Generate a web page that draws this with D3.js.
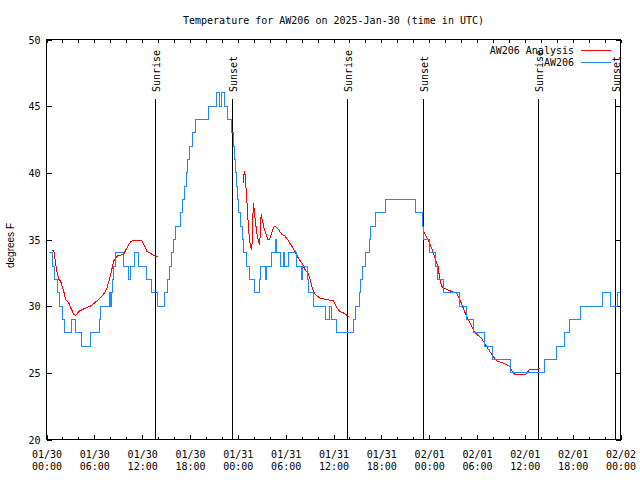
<!DOCTYPE html>
<html><head><meta charset="utf-8">
<script src="https://cdn.jsdelivr.net/npm/d3@7"></script>
<style>
html,body{margin:0;padding:0;background:#fff;}
svg{display:block;}
text{font-family:"DejaVu Sans Mono",monospace;font-size:10px;fill:#000;}
</style></head><body>
<svg id="chart" width="640" height="480"></svg>
<script>
// ---- data (time = hours after 2025-01-30 00:00 UTC) ----
const titleText = "Temperature for AW206 on 2025-Jan-30 (time in UTC)";
const yLabelText = "degrees F";
const seriesNames = ["AW206 Analysis", "AW206"];
const yTicks = [20, 25, 30, 35, 40, 45, 50];
const xMajorHours = [0, 6, 12, 18, 24, 30, 36, 42, 48, 54, 60, 66, 72];
const xTickDates = ["01/30","01/30","01/30","01/30","01/31","01/31","01/31","01/31","02/01","02/01","02/01","02/01","02/02"];
const xTickTimes = ["00:00","06:00","12:00","18:00","00:00","06:00","12:00","18:00","00:00","06:00","12:00","18:00","00:00"];
const sunHours = [13.67, 23.33, 37.73, 47.25, 61.65, 71.25];
const sunLabels = ["Sunrise", "Sunset", "Sunrise", "Sunset", "Sunrise", "Sunset"];

const obsHours = [0.29,0.71,1.04,1.38,1.63,2.00,2.32,3.13,3.63,4.35,5.47,6.70,6.82,7.93,8.05,8.14,8.26,8.39,8.70,9.60,
  10.27,10.58,11.02,11.58,12.52,13.21,13.96,14.84,15.15,15.40,15.65,15.94,16.24,16.78,17.07,17.34,17.53,17.72,17.97,18.28,
  18.72,20.35,21.29,21.66,21.91,22.35,22.67,23.17,23.42,23.60,23.73,23.85,23.98,24.10,24.29,24.54,24.76,25.11,25.48,26.05,
  26.71,26.89,27.49,27.61,28.24,28.68,28.89,29.30,29.71,29.84,30.34,31.31,31.93,32.12,32.75,32.90,33.47,34.94,35.56,35.78,
  36.38,38.57,38.82,39.23,39.44,39.66,40.07,40.48,40.70,41.29,42.58,46.33,47.15,47.33,48.09,48.84,49.00,49.75,51.84,52.68,
  53.60,54.97,55.94,58.19,62.49,63.95,64.99,65.62,66.99,69.79,70.71,71.67,71.88];
const obsTemps = [34,33,32,31,30,29,28,29,28,27,28,29,30,31,30,31,32,33,34,33,
  32,33,34,33,32,31,30,31,32,33,34,35,36,37,38,39,40,41,42,43,
  44,45,46,45,46,45,44,43,42,41,40,39,38,37,36,35,34,33,32,31,
  32,33,32,33,34,35,34,33,34,33,34,33,32,33,32,31,30,29,30,29,
  28,29,30,31,32,33,34,35,36,37,38,37,36,35,34,33,32,31,30,29,
  28,27,26,25,26,27,28,29,30,31,30,31,31];

const anaHours = [0.63,0.91,1.13,1.34,1.54,1.75,1.97,2.17,2.38,2.79,3.01,3.42,3.67,4.04,4.67,5.51,6.35,7.18,7.60,8.01,
  8.43,8.85,9.68,10.11,10.52,10.73,11.98,12.61,13.65,13.94,
  18.0,
  24.71,24.79,24.88,24.96,25.04,25.13,25.21,25.33,25.46,25.63,25.76,25.83,25.96,26.05,26.17,26.38,26.58,26.71,26.80,26.92,
  27.14,27.34,27.55,27.76,27.96,28.26,28.46,28.68,29.09,29.51,29.93,30.34,30.77,31.18,31.59,32.02,32.43,32.85,33.06,33.47,
  33.68,34.31,35.15,35.98,36.40,36.81,37.23,37.98,
  42.0,
  47.33,47.83,48.34,48.84,49.12,49.34,49.55,49.75,50.80,51.43,51.84,52.25,52.68,53.09,53.51,53.93,54.56,54.76,55.19,55.60,
  56.01,56.44,57.26,57.69,58.10,58.52,58.73,60.11,60.61,61.95];
const anaTemps = [34.2,34.2,33.25,32.5,32.0,31.9,31.5,31.1,30.5,30.25,29.9,29.4,29.3,29.6,29.8,30.0,30.4,30.9,31.4,32.25,
  33.4,33.75,33.9,34.4,34.8,34.9,34.9,34.1,33.75,33.7,
  null,
  39.25,40.0,40.1,39.5,38.75,38.0,37.0,36.0,35.0,34.4,34.2,36.0,37.75,37.25,36.5,35.5,34.9,34.6,35.25,36.9,
  36.25,35.75,35.4,35.0,35.0,35.5,35.9,36.0,35.75,35.4,35.25,34.9,34.5,34.1,33.6,33.25,32.75,32.4,32.0,31.1,
  30.9,30.6,30.5,30.4,29.9,29.6,29.5,29.2,
  null,
  35.6,35.0,34.3,33.4,32.95,32.0,31.5,31.4,31.1,31.0,30.5,29.9,29.25,28.75,28.25,27.9,27.6,27.4,27.0,26.6,
  26.25,25.9,25.75,25.6,25.5,25.0,24.9,24.9,25.25,25.3];

// ---- layout / style ----
const W = 640, H = 480;
const L = 46.5, R = 620.5, T = 39.5, B = 439.5;
const anaColor = "#ff0000", obsColor = "#1e88ff";
const sunLineTop = 99;

const svg = d3.select("#chart");
svg.append("rect").attr("width", W).attr("height", H).attr("fill", "#fff");

const x = d3.scaleLinear().domain([0, 72]).range([L, R]);
const y = d3.scaleLinear().domain([20, 50]).range([B, T]);

const obs = obsHours.map((h, i) => ({h, v: obsTemps[i]}));
const ana = anaHours.map((h, i) => ({h, v: anaTemps[i]}));

// axes (ticks inward)
const xMinor = d3.range(0, 73, 2);
function styleAxis(g) {
  g.select(".domain").remove();
  g.selectAll(".tick line").attr("stroke", "#000").attr("shape-rendering", "crispEdges");
}
svg.append("g").attr("transform", `translate(0,${B})`)
  .call(d3.axisBottom(x).tickValues(xMinor).tickSizeInner(-3).tickSizeOuter(0).tickFormat(""))
  .call(styleAxis);
svg.append("g").attr("transform", `translate(0,${T})`)
  .call(d3.axisTop(x).tickValues(xMinor).tickSizeInner(-3).tickSizeOuter(0).tickFormat(""))
  .call(styleAxis);
const xLab = svg.append("g").attr("transform", `translate(0,${B})`)
  .call(d3.axisBottom(x).tickValues(xMajorHours).tickSizeInner(-5).tickSizeOuter(0).tickFormat(""))
  .call(styleAxis);
xLab.selectAll(".tick").each(function(d, i) {
  const t = d3.select(this).select("text")
    .attr("y", 0).attr("dy", null)
    .attr("font-family", null).attr("font-size", null)
    .attr("text-anchor", "middle");
  t.append("tspan").attr("x", 0).attr("y", 18).text(xTickDates[i]);
  t.append("tspan").attr("x", 0).attr("y", 30).text(xTickTimes[i]);
});
svg.append("g").attr("transform", `translate(${L},0)`)
  .call(d3.axisLeft(y).tickValues(yTicks).tickSizeInner(-5).tickSizeOuter(0).tickPadding(6).tickFormat(d3.format("d")))
  .call(styleAxis)
  .call(g => g.selectAll("text").attr("font-family", null).attr("font-size", null).attr("dy", "0.35em"));
svg.append("g").attr("transform", `translate(${R},0)`)
  .call(d3.axisRight(y).tickValues(yTicks).tickSizeInner(-5).tickSizeOuter(0).tickFormat(""))
  .call(styleAxis);

// sunrise / sunset markers
const sun = svg.append("g");
sunHours.forEach((h, i) => {
  const sx = Math.round(x(h)) + 0.5;
  sun.append("line").attr("x1", sx).attr("x2", sx).attr("y1", sunLineTop).attr("y2", B)
    .attr("stroke", "#000").attr("stroke-width", 1).attr("shape-rendering", "crispEdges");
  sun.append("text").attr("transform", `translate(${sx + 4},92) rotate(-90)`)
    .attr("text-anchor", "start").text(sunLabels[i]);
});

// series
const lineAna = d3.line().defined(d => d.v != null).x(d => x(d.h)).y(d => y(d.v));
const lineObs = d3.line().curve(d3.curveStepAfter).x(d => x(d.h)).y(d => y(d.v));
svg.append("path").datum(ana).attr("d", lineAna).attr("fill", "none")
  .attr("stroke", anaColor).attr("stroke-width", 1).attr("shape-rendering", "crispEdges");
svg.append("path").datum(obs).attr("d", lineObs).attr("fill", "none")
  .attr("stroke", obsColor).attr("stroke-width", 1).attr("shape-rendering", "crispEdges");

// frame
svg.append("rect").attr("x", L).attr("y", T).attr("width", R - L).attr("height", B - T)
  .attr("fill", "none").attr("stroke", "#000").attr("shape-rendering", "crispEdges");

// title & y label
svg.append("text").attr("x", (L + R) / 2).attr("y", 23.5).attr("text-anchor", "middle").text(titleText);
svg.append("text").attr("transform", `translate(14,${(T + B) / 2 + 6}) rotate(-90)`)
  .attr("text-anchor", "middle").style("font-family", "'Liberation Sans', Arial, sans-serif")
  .style("font-size", "10px").text(yLabelText);

// legend
const legColors = [anaColor, obsColor];
seriesNames.forEach((name, i) => {
  const ly = 50.5 + i * 12;
  svg.append("text").attr("x", 574).attr("y", ly).attr("dy", "0.35em").attr("text-anchor", "end").text(name);
  svg.append("line").attr("x1", 581).attr("x2", 611).attr("y1", ly).attr("y2", ly)
    .attr("stroke", legColors[i]).attr("shape-rendering", "crispEdges");
});
</script>
</body></html>
